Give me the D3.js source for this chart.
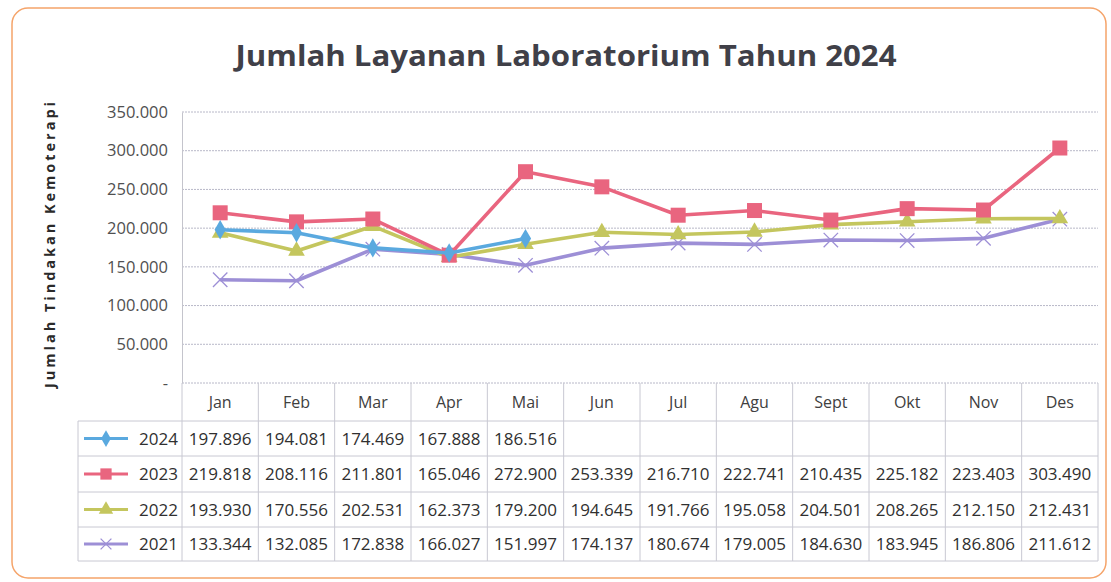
<!DOCTYPE html>
<html>
<head>
<meta charset="utf-8">
<script src="https://d3js.org/d3.v7.min.js"></script>
<style>
  body { margin: 0; background: #fff; }
  text { font-family: "Open Sans", sans-serif; }
</style>
</head>
<body>
<div id="chart"></div>
<script>
// Data
const months = ["Jan", "Feb", "Mar", "Apr", "Mai", "Jun", "Jul", "Agu", "Sept", "Okt", "Nov", "Des"];
const yTicks = [0, 50000, 100000, 150000, 200000, 250000, 300000, 350000];
const years = ["2024", "2023", "2022", "2021"];
const v2024 = [197896, 194081, 174469, 167888, 186516, null, null, null, null, null, null, null];
const v2023 = [219818, 208116, 211801, 165046, 272900, 253339, 216710, 222741, 210435, 225182, 223403, 303490];
const v2022 = [193930, 170556, 202531, 162373, 179200, 194645, 191766, 195058, 204501, 208265, 212150, 212431];
const v2021 = [133344, 132085, 172838, 166027, 151997, 174137, 180674, 179005, 184630, 183945, 186806, 211612];

const series = [
  { name: years[0], values: v2024, color: "#5aa9df", marker: "diamond" },
  { name: years[1], values: v2023, color: "#e9657f", marker: "square" },
  { name: years[2], values: v2022, color: "#c4c65e", marker: "triangle" },
  { name: years[3], values: v2021, color: "#9d8fd6", marker: "cross" }
];

const W = 1111, H = 582;
const plot = { left: 182, right: 1098, top: 112, bottom: 383 };
const rowTops = [383, 421, 456, 492, 527, 561];
const tableLeft = 78;

// Indonesian number format (dot as thousands separator)
const idLocale = d3.formatLocale({ decimal: ",", thousands: ".", grouping: [3], currency: ["Rp", ""] });
const fmt = idLocale.format(",d");

const svg = d3.select("#chart").append("svg")
  .attr("width", W)
  .attr("height", H);

// Orange rounded frame
svg.append("rect")
  .attr("x", 12).attr("y", 8)
  .attr("width", 1094).attr("height", 570)
  .attr("rx", 16)
  .attr("fill", "none")
  .attr("stroke", "#f5a46a")
  .attr("stroke-width", 1.5);

// Scales
const x = d3.scaleBand().domain(months).range([plot.left, plot.right]).padding(0);
const y = d3.scaleLinear().domain([0, 350000]).range([plot.bottom, plot.top]);

// Gridlines
svg.append("g")
  .selectAll("line")
  .data(yTicks)
  .join("line")
  .attr("x1", plot.left).attr("x2", plot.right)
  .attr("y1", d => y(d)).attr("y2", d => y(d))
  .attr("stroke", "#b8b8c8")
  .attr("stroke-width", 1)
  .attr("stroke-dasharray", "2,1");

// Y axis
const yAxis = d3.axisLeft(y)
  .tickValues(yTicks)
  .tickSize(0)
  .tickPadding(14)
  .tickFormat(d => d === 0 ? "-" : fmt(d));

const yg = svg.append("g")
  .attr("transform", `translate(${plot.left},0)`)
  .call(yAxis);
yg.select(".domain").attr("stroke", "#c4c4cc");
yg.selectAll("text")
  .attr("font-size", 16.5)
  .attr("fill", "#505050");

// Y axis title
svg.append("text")
  .attr("transform", `translate(55,245) rotate(-90)`)
  .attr("text-anchor", "middle")
  .attr("font-size", 14.5)
  .attr("font-weight", "bold")
  .attr("fill", "#2a2a2a")
  .attr("textLength", 286)
  .attr("lengthAdjust", "spacing")
  .text("Jumlah Tindakan Kemoterapi");

// Title
svg.append("text")
  .attr("x", 566)
  .attr("y", 66)
  .attr("text-anchor", "middle")
  .attr("font-size", 28)
  .attr("font-weight", "bold")
  .attr("fill", "#404048")
  .attr("textLength", 661)
  .attr("lengthAdjust", "spacingAndGlyphs")
  .text("Jumlah Layanan Laboratorium Tahun 2024");

// Marker drawing
function drawMarker(g, type, color, size) {
  if (type === "diamond") {
    g.append("path").attr("d", d3.symbol(d3.symbolDiamond, size * 9)())
      .attr("fill", color);
  } else if (type === "square") {
    g.append("rect")
      .attr("x", -size / 1.6).attr("y", -size / 1.6)
      .attr("width", size * 1.25).attr("height", size * 1.25)
      .attr("fill", color);
  } else if (type === "triangle") {
    g.append("path").attr("d", d3.symbol(d3.symbolTriangle, size * 10)())
      .attr("fill", color);
  } else {
    const s = size * 0.6;
    g.append("path")
      .attr("d", `M${-s},${-s}L${s},${s}M${-s},${s}L${s},${-s}`)
      .attr("stroke", color)
      .attr("stroke-width", 1.3)
      .attr("fill", "none");
  }
}

// Lines and markers (draw 2021 first so 2024 ends on top)
const line = d3.line()
  .defined(d => d.v !== null)
  .x(d => x(d.m) + x.bandwidth() / 2)
  .y(d => y(d.v));

series.slice().reverse().forEach(s => {
  const pts = months.map((m, i) => ({ m: m, v: s.values[i] }));
  svg.append("path")
    .datum(pts)
    .attr("fill", "none")
    .attr("stroke", s.color)
    .attr("stroke-width", 3.6)
    .attr("stroke-linejoin", "round")
    .attr("d", line);

  pts.filter(d => d.v !== null).forEach(d => {
    const g = svg.append("g")
      .attr("transform", `translate(${x(d.m) + x.bandwidth() / 2},${y(d.v)})`);
    drawMarker(g, s.marker, s.color, 12);
  });
});

// Data table
const tableColor = "#c8c8d2";
const tbl = svg.append("g");

// horizontal lines
tbl.selectAll("line.h")
  .data(rowTops.slice(1))
  .join("line")
  .attr("class", "h")
  .attr("x1", tableLeft).attr("x2", plot.right)
  .attr("y1", d => d).attr("y2", d => d)
  .attr("stroke", tableColor);

// vertical lines at band edges
const edges = months.map(m => x(m)).concat([plot.right]);
tbl.selectAll("line.v")
  .data(edges)
  .join("line")
  .attr("class", "v")
  .attr("x1", d => d).attr("x2", d => d)
  .attr("y1", rowTops[0]).attr("y2", rowTops[5])
  .attr("stroke", tableColor);

tbl.append("line")
  .attr("x1", tableLeft).attr("x2", tableLeft)
  .attr("y1", rowTops[1]).attr("y2", rowTops[5])
  .attr("stroke", tableColor);

// month header
tbl.selectAll("text.month")
  .data(months)
  .join("text")
  .attr("class", "month")
  .attr("x", d => x(d) + x.bandwidth() / 2)
  .attr("y", (rowTops[0] + rowTops[1]) / 2 + 6)
  .attr("text-anchor", "middle")
  .attr("font-size", 16)
  .attr("fill", "#404040")
  .text(d => d);

// rows
series.forEach((s, r) => {
  const cy = (rowTops[r + 1] + rowTops[r + 2]) / 2;
  // legend key
  tbl.append("line")
    .attr("x1", 84).attr("x2", 128)
    .attr("y1", cy).attr("y2", cy)
    .attr("stroke", s.color)
    .attr("stroke-width", 3);
  const g = tbl.append("g").attr("transform", `translate(106,${cy})`);
  drawMarker(g, s.marker, s.color, 9);
  tbl.append("text")
    .attr("x", 178)
    .attr("y", cy + 6)
    .attr("text-anchor", "end")
    .attr("font-size", 17)
    .attr("fill", "#303030")
    .text(s.name);

  months.forEach((m, i) => {
    if (s.values[i] === null) return;
    tbl.append("text")
      .attr("x", x(m) + x.bandwidth() / 2)
      .attr("y", cy + 6)
      .attr("text-anchor", "middle")
      .attr("font-size", 17)
      .attr("fill", "#303030")
      .text(fmt(s.values[i]));
  });
});
</script>
</body>
</html>
